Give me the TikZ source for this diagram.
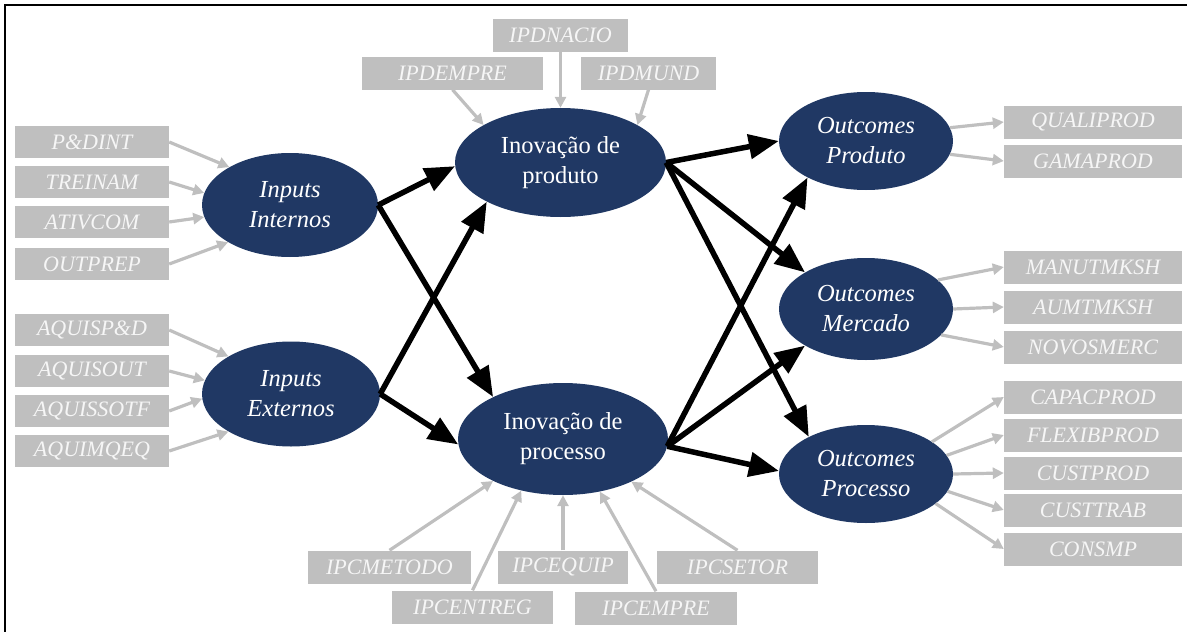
\documentclass[tikz,border=0pt]{standalone}
\usepackage{fontspec}
\setmainfont{Liberation Serif}
\usetikzlibrary{shapes.geometric,arrows.meta}
\definecolor{navy}{RGB}{32,56,100}
\definecolor{boxgray}{RGB}{191,191,191}
\definecolor{boxtext}{RGB}{246,246,246}

\begin{document}
\begin{tikzpicture}[x=1pt,y=-1pt,
  construct/.style={ellipse, fill=navy, text=white, inner sep=0pt, align=center,
    font=\fontsize{24.5}{30}\selectfont},
  iconstruct/.style={construct, font=\fontsize{24.5}{30}\selectfont\itshape},
  indicator/.style={fill=boxgray, text=boxtext, inner sep=0pt,
    font=\fontsize{22}{24}\selectfont\itshape},
  lbox/.style={indicator, minimum width=154pt, minimum height=32pt},
  rbox/.style={indicator, minimum width=178pt, minimum height=33pt},
  tbox/.style={indicator, minimum height=33pt},
  loading/.style={draw=boxgray, line width=3.2pt, -{Triangle[length=11pt,width=11pt]}},
  causal/.style={draw=black, line width=5.5pt, -{Triangle[length=30pt,width=24pt]}},
]
\useasboundingbox (0,0) rectangle (1187,632);
% frame
\draw[line width=2pt] (5,632) -- (5,5) -- (1187,5);

% constructs
\node[iconstruct, minimum width=176pt, minimum height=104pt] (ii) at (290,205) {Inputs\\Internos};
\node[iconstruct, minimum width=178pt, minimum height=105pt] (ie) at (291,394) {Inputs\\Externos};
\node[construct, minimum width=211pt, minimum height=109pt] (ip) at (560.5,162.5) {Inovação de\\produto};
\node[construct, minimum width=210pt, minimum height=112pt] (ipc) at (563,439) {Inovação de\\processo};
\node[iconstruct, minimum width=174pt, minimum height=98pt] (op) at (866,141) {Outcomes\\Produto};
\node[iconstruct, minimum width=174pt, minimum height=102pt] (om) at (866,309) {Outcomes\\Mercado};
\node[iconstruct, minimum width=174pt, minimum height=98pt] (opr) at (866,474) {Outcomes\\Processo};

% indicators: inputs
\node[lbox] (pdint) at (92,142) {P\&DINT};
\node[lbox] (treinam) at (92,182) {TREINAM};
\node[lbox] (ativcom) at (92,222) {ATIVCOM};
\node[lbox] (outprep) at (92,264) {OUTPREP};
\node[lbox] (aquispd) at (92,330) {AQUISP\&D};
\node[lbox] (aquisout) at (92,371) {AQUISOUT};
\node[lbox] (aquissotf) at (92,411) {AQUISSOTF};
\node[lbox] (aquimqeq) at (92,451) {AQUIMQEQ};

% indicators: product innovation
\node[tbox, minimum width=135pt] (ipdnacio) at (560.5,35) {IPDNACIO};
\node[tbox, minimum width=181pt] (ipdempre) at (452.5,73) {IPDEMPRE};
\node[tbox, minimum width=135pt] (ipdmund) at (648.5,73) {IPDMUND};

% indicators: process innovation
\node[tbox, minimum width=163pt] (ipcmetodo) at (389.5,567) {IPCMETODO};
\node[tbox, minimum width=161pt] (ipcentreg) at (472.5,607) {IPCENTREG};
\node[tbox, minimum width=130pt] (ipcequip) at (563,567) {IPCEQUIP};
\node[tbox, minimum width=162pt] (ipcempre) at (656,608) {IPCEMPRE};
\node[tbox, minimum width=161pt] (ipcsetor) at (737.5,567) {IPCSETOR};

% indicators: outcomes
\node[rbox] (qualiprod) at (1093,122) {QUALIPROD};
\node[rbox] (gamaprod) at (1093,161) {GAMAPROD};
\node[rbox] (manutmksh) at (1093,267) {MANUTMKSH};
\node[rbox] (aumtmksh) at (1093,307) {AUMTMKSH};
\node[rbox] (novosmerc) at (1093,347) {NOVOSMERC};
\node[rbox] (capacprod) at (1093,397) {CAPACPROD};
\node[rbox] (flexibprod) at (1093,435) {FLEXIBPROD};
\node[rbox] (custprod) at (1093,473) {CUSTPROD};
\node[rbox] (custtrab) at (1093,510) {CUSTTRAB};
\node[rbox] (consmp) at (1093,549) {CONSMP};

% measurement arrows
\draw[loading] (pdint.east) -- (ii.148);
\draw[loading] (treinam.east) -- (ii.172);
\draw[loading] (ativcom.east) -- (ii.188);
\draw[loading] (outprep.east) -- (ii.211);
\draw[loading] (aquispd.east) -- (ie.149);
\draw[loading] (aquisout.east) -- (ie.171);
\draw[loading] (aquissotf.east) -- (ie.183);
\draw[loading] (aquimqeq.east) -- (ie.211);
\draw[loading] (ipdnacio.south) -- (ip.90);
\draw[loading] (ipdempre.south) -- (ip.154);
\draw[loading] (ipdmund.south) -- (ip.26);
\draw[loading] (ipcmetodo.north) -- (ipc.211);
\draw[loading] (ipcentreg.north) -- (ipc.231);
\draw[loading] (ipcequip.north) -- (ipc.270);
\draw[loading] (ipcempre.north) -- (ipc.305);
\draw[loading] (ipcsetor.north) -- (ipc.328);
\draw[loading] (op.9) -- (qualiprod.west);
\draw[loading] (op.351) -- (gamaprod.west);
\draw[loading] (om.22) -- (manutmksh.west);
\draw[loading] (om.0) -- (aumtmksh.west);
\draw[loading] (om.341) -- (novosmerc.west);
\draw[loading] (opr.26) -- (capacprod.west);
\draw[loading] (opr.13) -- (flexibprod.west);
\draw[loading] (opr.0) -- (custprod.west);
\draw[loading] (opr.348) -- (custtrab.west);
\draw[loading] (opr.337) -- (consmp.west);

% structural paths
\draw[causal] (ii.0) -- (ip.182);
\draw[causal] (ii.0) -- (ipc.149);
\draw[causal] (ie.0) -- (ip.208);
\draw[causal] (ie.0) -- (ipc.183);
\draw[causal] (ip.0) -- (op.180);
\draw[causal] (ip.0) -- (om.149);
\draw[causal] (ip.0) -- (opr.147);
\draw[causal] (ipc.356) -- (op.212);
\draw[causal] (ipc.356) -- (om.211);
\draw[causal] (ipc.356) -- (opr.178);
\end{tikzpicture}
\end{document}
